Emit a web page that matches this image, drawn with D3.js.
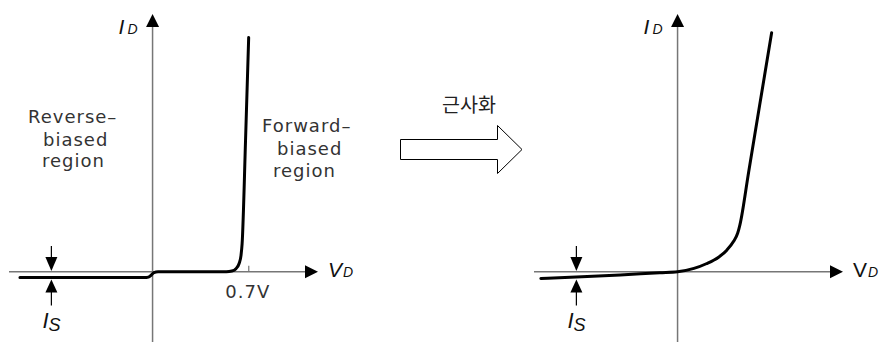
<!DOCTYPE html>
<html><head><meta charset="utf-8">
<script src="https://cdn.jsdelivr.net/npm/d3@7"></script>
<style>
  body { margin: 0; background: #fff; }
  svg { display: block; }
</style>
</head><body>
<svg id="chart" width="884" height="342"></svg>
<script>
// Diode I–V characteristic (left) and its piecewise approximation (right).
// Units: V_D in volts, I_D in arbitrary current units.
const actualV = [-0.97, -0.06, -0.03, -0.01, 0.01, 0.04, 0.54, 0.58, 0.61, 0.633, 0.647, 0.655, 0.68, 0.703];
const actualI = [-0.25, -0.25, -0.23, -0.15, -0.04, 0.0, 0.0, 0.03, 0.13, 0.35, 0.7, 1.2, 5.6, 10.0];
const approxV = [-1.0, -0.7, -0.42, -0.13, 0.0, 0.12, 0.21, 0.3, 0.36, 0.41, 0.44, 0.456, 0.52, 0.6, 0.688];
const approxI = [-0.29, -0.22, -0.14, -0.04, 0.0, 0.14, 0.34, 0.62, 0.92, 1.3, 1.65, 2.0, 4.26, 7.09, 10.2];
const saturationI = -0.25;
const kneeVoltage = [0.7];
const kneeLabels = ["0.7V"];
const reverseText = ["Reverse–", "biased", "region"];
const forwardText = ["Forward–", "biased", "region"];
const approxText = "근사화";

const svg = d3.select("#chart");
const axisColor = "#767676";
const labelFont = "'DejaVu Sans', sans-serif";
const mathFont = "'Liberation Sans', Arial, sans-serif";

const vDomain = [-1.05, 1.21];
const iDomain = [-3, 11];
const y = d3.scaleLinear().domain(iDomain).range([342, 14]);

function panel(left, vs, is, opts) {
  const x = d3.scaleLinear().domain(vDomain).range([left, left + 309]);
  const g = svg.append("g");
  const x0 = x(0), y0 = y(0);
  const head = 13, half = 6.5;

  // axes
  g.append("line").attr("x1", x(vDomain[0])).attr("x2", x(vDomain[1]) - head)
    .attr("y1", y0).attr("y2", y0).attr("stroke", axisColor).attr("stroke-width", 1.5);
  g.append("path").attr("fill", "#000")
    .attr("d", `M${x(vDomain[1])},${y0}L${x(vDomain[1]) - head},${y0 - half}L${x(vDomain[1]) - head},${y0 + half}Z`);
  g.append("line").attr("x1", x0).attr("x2", x0)
    .attr("y1", y(iDomain[0])).attr("y2", y(iDomain[1]) + head)
    .attr("stroke", axisColor).attr("stroke-width", 1.5);
  g.append("path").attr("fill", "#000")
    .attr("d", `M${x0},${y(iDomain[1])}L${x0 - half},${y(iDomain[1]) + head}L${x0 + half},${y(iDomain[1]) + head}Z`);

  // optional knee tick
  if (opts.ticks) {
    const ax = g.append("g").attr("transform", `translate(0,${y0})`)
      .call(d3.axisBottom(x).tickValues(opts.ticks).tickFormat((d, k) => kneeLabels[k])
        .tickSizeInner(-6).tickSizeOuter(0).tickPadding(13.5));
    ax.select(".domain").remove();
    ax.selectAll(".tick line").attr("stroke", axisColor).attr("stroke-width", 1.2);
    ax.selectAll(".tick text").attr("font-family", labelFont).attr("font-size", 18)
      .attr("fill", "#333").attr("letter-spacing", 1).attr("dx", -1);
  }

  // characteristic curve
  const pts = vs.map((v, k) => [v, is[k]]);
  g.append("path").datum(pts)
    .attr("fill", "none").attr("stroke", "#000").attr("stroke-width", 3)
    .attr("stroke-linecap", "round").attr("stroke-linejoin", "round")
    .attr("d", d3.line().x(d => x(d[0])).y(d => y(d[1])).curve(d3.curveMonotoneX));

  // saturation-current markers
  const xs = x(-0.74);
  const yTop = y0 - 0.7, yBot = y(saturationI) + 2;
  g.append("line").attr("x1", xs).attr("x2", xs).attr("y1", yTop - 25).attr("y2", yTop - 12)
    .attr("stroke", "#000").attr("stroke-width", 1.2);
  g.append("path").attr("fill", "#000")
    .attr("d", `M${xs},${yTop}L${xs - 6},${yTop - 14}L${xs + 6},${yTop - 14}Z`);
  g.append("line").attr("x1", xs).attr("x2", xs).attr("y1", yBot + 12).attr("y2", yBot + 26)
    .attr("stroke", "#000").attr("stroke-width", 1.2);
  g.append("path").attr("fill", "#000")
    .attr("d", `M${xs},${yBot}L${xs - 6},${yBot + 13}L${xs + 6},${yBot + 13}Z`);

  // I_S label
  const is_ = g.append("text").attr("font-family", mathFont).attr("font-style", "italic")
    .attr("fill", "#111").attr("x", xs - 9).attr("y", 328);
  is_.append("tspan").attr("font-size", 22).text("I");
  is_.append("tspan").attr("font-size", 18).attr("dy", 3).text("S");

  // I_D label
  const id = g.append("text").attr("font-family", mathFont).attr("font-style", "italic")
    .attr("fill", "#111").attr("x", x0 - 34).attr("y", 33.5);
  id.append("tspan").attr("font-size", 21).text("I");
  id.append("tspan").attr("font-size", 14).attr("dx", 3).attr("dy", 0.5).text("D");

  // V_D label
  const vd = g.append("text").attr("font-family", mathFont).attr("fill", "#111")
    .attr("x", x(vDomain[1]) + 10).attr("y", 277);
  vd.append("tspan").attr("font-size", 21).attr("font-style", opts.vItalic ? "italic" : "normal").text("V");
  vd.append("tspan").attr("font-size", 14).attr("font-style", "italic").attr("dx", 1).text("D");

  return { g, x };
}

panel(9, actualV, actualI, { ticks: kneeVoltage, vItalic: true });
panel(534, approxV, approxI, { vItalic: false });

// region captions
function caption(lines, xs, ys) {
  lines.forEach((t, k) => {
    svg.append("text").attr("x", xs[k]).attr("y", ys[k])
      .attr("font-family", labelFont).attr("font-size", 18).attr("fill", "#333")
      .attr("letter-spacing", 1)
      .text(t);
  });
}
caption(reverseText, [28, 43, 42], [123.3, 145.5, 167]);
caption(forwardText, [262, 277, 273], [131.5, 154.5, 176.5]);

// approximation arrow
svg.append("text").attr("x", 442).attr("y", 112)
  .attr("font-family", "'Noto Sans CJK KR', sans-serif").attr("font-size", 19.5)
  .attr("fill", "#222").text(approxText);
svg.append("path").attr("fill", "#fff").attr("stroke", "#000").attr("stroke-width", 1)
  .attr("d", "M400.5,139.5H497.5V125.5L522,149.5L497.5,173.5V159.5H400.5Z");
</script>
</body></html>
